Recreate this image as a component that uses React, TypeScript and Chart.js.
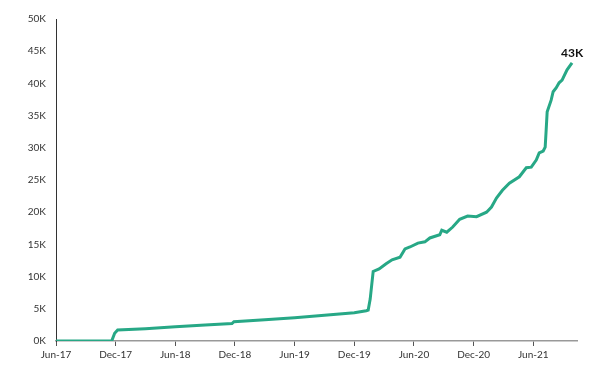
import React, { useEffect, useRef } from "react";
import { Chart, registerables } from "chart.js";

Chart.register(...registerables);

// months since Jun-2017
const months = [
  0, 5.6, 5.9, 6.2, 9, 12, 15, 17.7, 17.9, 21, 24, 27, 30, 31.2, 31.4, 31.6, 31.9,
  32.5, 33.2, 33.8, 34.6, 35.1, 35.6, 36.4, 37.1, 37.6, 38.6, 38.8, 39.3, 39.9,
  40.6, 41.4, 42.3, 43.3, 43.8, 44.3, 44.9, 45.6, 46.6, 47.3, 47.8, 48.3, 48.6,
  49.0, 49.2, 49.3, 49.4, 49.8, 50.0, 50.3, 50.6, 50.9, 51.4, 51.9,
];
// cumulative count in thousands
const valuesK = [
  0, 0, 1.2, 1.7, 1.9, 2.2, 2.5, 2.7, 3.0, 3.3, 3.6, 4.0, 4.4, 4.7, 4.8, 6.5, 10.8,
  11.2, 12.0, 12.6, 13.0, 14.3, 14.6, 15.2, 15.4, 16.0, 16.5, 17.2, 16.9, 17.7,
  18.9, 19.4, 19.3, 20.0, 20.8, 22.2, 23.4, 24.5, 25.5, 26.9, 27.0, 28.1, 29.2,
  29.5, 30.1, 32.8, 35.6, 37.4, 38.7, 39.3, 40.1, 40.5, 42.1, 43.2,
];
const xTickLabels = [
  "Jun-17", "Dec-17", "Jun-18", "Dec-18", "Jun-19", "Dec-19", "Jun-20", "Dec-20", "Jun-21",
];
const endLabel = "43K";

const FONT = "Lato, 'Open Sans', sans-serif";

export default function App() {
  const ref = useRef<HTMLCanvasElement>(null);
  useEffect(() => {
    document.body.style.margin = "0";
    const endLabelPlugin = {
      id: "endLabel",
      afterDatasetsDraw(chart: any) {
        const meta = chart.getDatasetMeta(0);
        const pt = meta.data[meta.data.length - 1];
        const ctx = chart.ctx;
        ctx.save();
        ctx.font = `bold 12px ${FONT}`;
        ctx.fillStyle = "#111";
        ctx.textAlign = "center";
        ctx.textBaseline = "middle";
        ctx.fillText(endLabel, pt.x, pt.y - 10);
        ctx.restore();
      },
    };
    const chart = new Chart(ref.current!, {
      type: "line",
      data: {
        datasets: [
          {
            data: months.map((m, i) => ({ x: m, y: valuesK[i] })),
            borderColor: "#27a886",
            borderWidth: 3,
            pointRadius: 0,
            tension: 0,
            fill: false,
          },
        ],
      },
      options: {
        animation: false,
        responsive: false,
        maintainAspectRatio: false,
        layout: { padding: { top: 19, right: 23, left: 0, bottom: 0 } },
        plugins: { legend: { display: false }, tooltip: { enabled: false } },
        scales: {
          x: {
            type: "linear",
            min: 0,
            max: 52.4,
            afterBuildTicks: (scale: any) => {
              scale.ticks = [0, 6, 12, 18, 24, 30, 36, 42, 48].map((v) => ({ value: v }));
            },
            afterFit: (scale: any) => {
              scale.height = 46;
            },
            grid: { drawOnChartArea: false, drawTicks: true, tickLength: 5, color: "#555" },
            border: { display: true, color: "#999", width: 1.5 },
            ticks: {
              autoSkip: false,
              maxRotation: 0,
              padding: 3,
              color: "#333",
              font: { family: FONT, size: 10 },
              callback: (v: any) => xTickLabels[Math.round(Number(v) / 6)] ?? "",
            },
          },
          y: {
            min: 0,
            max: 50,
            afterFit: (scale: any) => {
              scale.width = 56;
            },
            grid: { drawOnChartArea: false, drawTicks: false },
            border: { display: true, color: "#333", width: 1 },
            ticks: {
              stepSize: 5,
              padding: 10,
              color: "#333",
              font: { family: FONT, size: 10 },
              callback: (v: any) => `${v}K`,
            },
          },
        },
      },
      plugins: [endLabelPlugin],
    });
    return () => chart.destroy();
  }, []);
  return (
    <div style={{ width: 600, height: 387 }}>
      <canvas ref={ref} width={600} height={387} style={{ display: "block" }} />
    </div>
  );
}
